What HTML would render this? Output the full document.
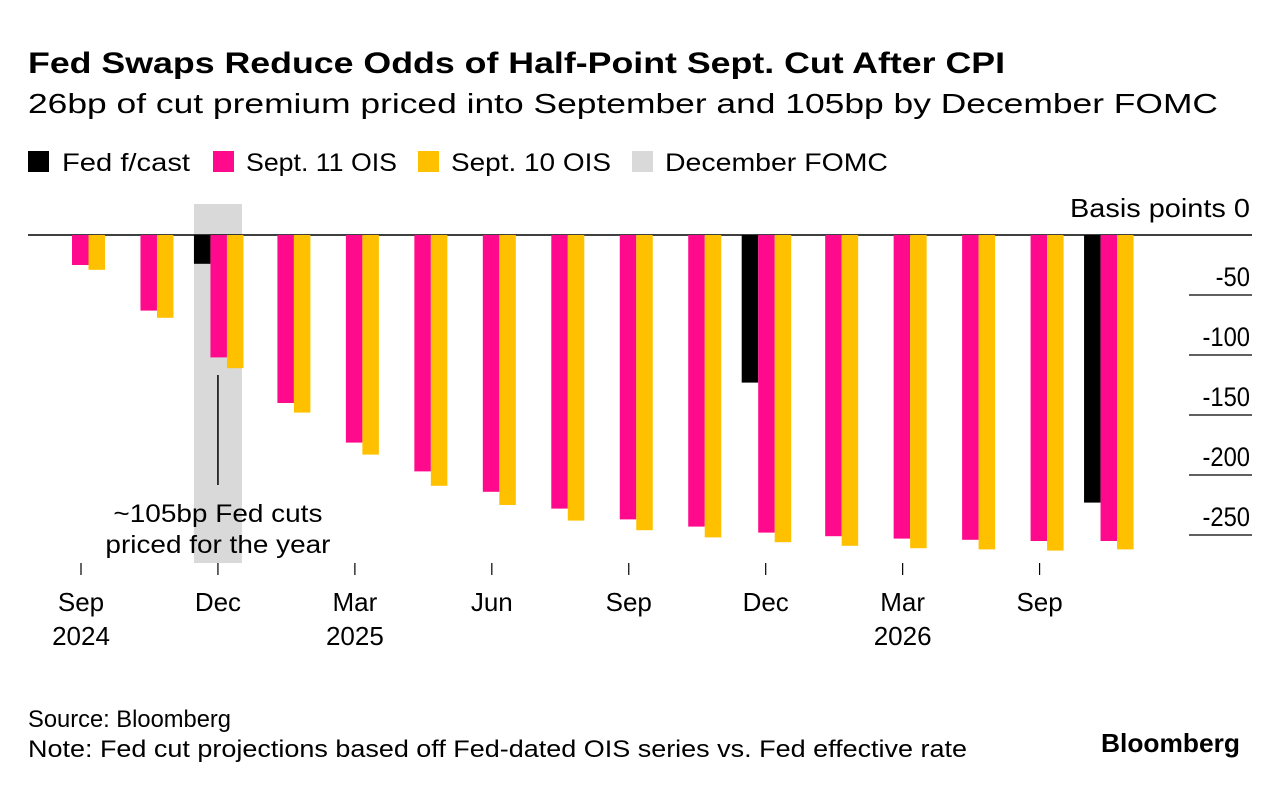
<!DOCTYPE html>
<html><head><meta charset="utf-8"><style>
body{margin:0;background:#fff;font-family:"Liberation Sans",sans-serif;}
#wrap{position:relative;width:1279px;height:788px;overflow:hidden;}
</style></head><body>
<div id="wrap">
<svg id="chart" width="1279" height="788" style="position:absolute;left:0;top:0" font-family="Liberation Sans, sans-serif"></svg>
</div>
<script>
const fedForecast=[null,null,24,null,null,null,null,null,null,null,123,null,null,null,null,223];
const sept11=[25,63,102,140,173,197,214,228,237,243,248,251,253,254,255,255];
const sept10=[29,69,111,148,183,209,225,238,246,252,256,259,261,262,263,262];
const xLabels=[[0,"Sep","2024"],[2,"Dec",""],[4,"Mar","2025"],[6,"Jun",""],[8,"Sep",""],[10,"Dec",""],[12,"Mar","2026"],[14,"Sep",""]];
const yTicks=[0,-50,-100,-150,-200,-250];
const NS="http://www.w3.org/2000/svg";
const svg=document.getElementById('chart');
const gx=i=>81+i*68.47;
const gy=v=>235+v*1.2;
function mk(tag,attrs){const e=document.createElementNS(NS,tag);for(const k in attrs)e.setAttribute(k,attrs[k]);svg.appendChild(e);return e;}
function txt(s,attrs,width,k){
  const t=mk('text',attrs);t.textContent=s;
  const w=width||t.getComputedTextLength()*(k||1);
  t.setAttribute('textLength',w);t.setAttribute('lengthAdjust','spacingAndGlyphs');
  return t;
}
let e;
e=txt("Fed Swaps Reduce Odds of Half-Point Sept. Cut After CPI",{x:28,y:73,'font-size':30,'font-weight':'bold'},977);


e=txt("26bp of cut premium priced into September and 105bp by December FOMC",{x:28,y:113,'font-size':28},1190);


// legend
[["#000",28,"Fed f/cast",62,128,'legend-entry-fed-forecast'],["#ff0a8c",213,"Sept. 11 OIS",246,151,'legend-entry-sept-11-ois'],["#ffc000",418,"Sept. 10 OIS",451,160,'legend-entry-sept-10-ois'],["#d9d9d9",632,"December FOMC",665,223,'legend-entry-december-fomc']].forEach(([c,sx,s,tx,w,n])=>{
  let r=mk('rect',{x:sx,y:151,width:21,height:21,fill:c});
  
  
  let t=txt(s,{x:tx,y:171,'font-size':25},w);
  
  
});
// december band
e=mk('rect',{x:gx(2)-24,y:204,width:48,height:359,fill:'#d9d9d9'});


// gridlines & y labels
yTicks.forEach(v=>{
  let l=mk('line',{x1:v===0?28:1189,x2:1252,y1:gy(-v),y2:gy(-v),stroke:'#000','stroke-width':v===0?1.5:1.2});
  
  
  let t;
  if(v===0) t=txt('Basis points  0',{x:1070,y:gy(0)-18,'font-size':26},180);
  else t=txt(String(v),{x:1250,y:gy(-v)-9,'text-anchor':'end','font-size':27},null,0.88);
  
  
});
// bars
const bw=16.5;
sept11.forEach((v,i)=>{
  const c=gx(i);
  const hasF=fedForecast[i]!==null;
  let ps;
  if(hasF){
    let b=mk('rect',{x:c-24,y:gy(0),width:bw,height:fedForecast[i]*1.2,fill:'#000'});
    
    
    ps=c-24+bw;
  } else ps=c-9;
  let p=mk('rect',{x:ps,y:gy(0),width:bw,height:v*1.2,fill:'#ff0a8c'});
  
  
  let y=mk('rect',{x:ps+bw,y:gy(0),width:bw,height:sept10[i]*1.2,fill:'#ffc000'});
  
  
});
// annotation
e=mk('line',{x1:gx(2),x2:gx(2),y1:375,y2:485,stroke:'#000','stroke-width':1.5});


[["~105bp Fed cuts",522,209],["priced for the year",553,225]].forEach(([s,yy,w])=>{
  let t=txt(s,{x:gx(2)-w/2,y:yy,'font-size':25},w);
  
  
});
// x axis
xLabels.forEach(([i,m,yr])=>{
  const c=gx(i);
  let tk=mk('line',{x1:c,x2:c,y1:563,y2:575,stroke:'#000','stroke-width':1.2});
  
  
  let t=mk('text',{x:c,y:611,'text-anchor':'middle','font-size':26});
  t.textContent=m;
  
  
  if(yr){
    let t2=mk('text',{x:c,y:645,'text-anchor':'middle','font-size':26});
    t2.textContent=yr;
    
    
  }
});
e=txt("Source: Bloomberg",{x:28,y:727,'font-size':24},203);


e=txt("Note: Fed cut projections based off Fed-dated OIS series vs. Fed effective rate",{x:28,y:757,'font-size':24},939);


e=txt("Bloomberg",{x:1101,y:752,'font-size':26,'font-weight':'bold'},139);


</script>
</body></html>
